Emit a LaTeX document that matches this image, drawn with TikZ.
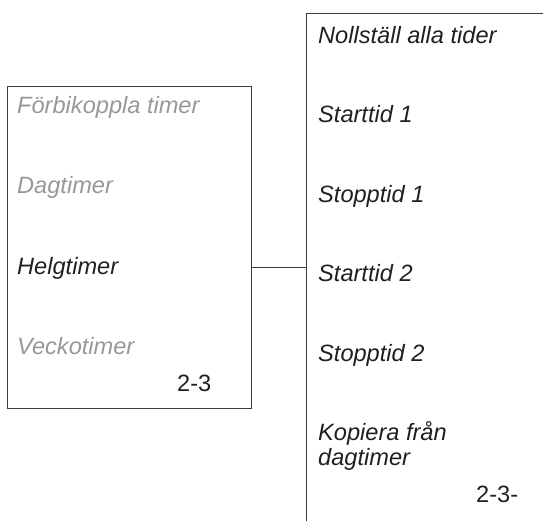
\documentclass[tikz,border=0pt]{standalone}
\usepackage{fontspec}
\setmainfont{Liberation Sans}
\usepackage{tikz}
\usetikzlibrary{positioning}
\definecolor{boxline}{RGB}{60, 60, 60}
\definecolor{dimtext}{RGB}{152, 152, 154}
\definecolor{maintext}{RGB}{35, 31, 32}

\begin{document}
\begin{tikzpicture}[
    x=1pt, y=-1pt,
    menubox/.style={
      rectangle,
      draw=boxline,
      line width=1pt,
      inner sep=0pt
    },
    item/.style={
      anchor=base west,
      inner sep=0pt,
      text=maintext,
      font=\fontsize{23.6}{24.5}\selectfont\itshape
    },
    inactive/.style={
      item,
      text=dimtext
    },
    pagenum/.style={
      anchor=base west,
      inner sep=0pt,
      text=maintext,
      font=\fontsize{23.6}{24.5}\selectfont
    },
    link/.style={
      draw=boxline,
      line width=1pt
    }
  ]

    \useasboundingbox (0,0) rectangle (543,520);
    \clip (0,0) rectangle (543,520);

    % Left box
    \node[menubox, minimum width=244pt, minimum height=322pt] (timers) at (129,247) {};
    \node[inactive] (bypass) at (17,113) {Förbikoppla timer};
    \node[inactive] (day) at (17,193) {Dagtimer};
    \node[item] (weekend) at (17,274) {Helgtimer};
    \node[inactive] (week) at (17,354) {Veckotimer};
    \node[pagenum] (leftnum) at (177,391) {2-3};

    % Right box (runs past the edge)
    \node[menubox, minimum width=264pt, minimum height=540pt] (times) at (438,283) {};
    \node[item] (reset) at (318,43) {Nollställ alla tider};
    \node[item] (start1) at (318,122) {Starttid 1};
    \node[item] (stop1) at (318,202) {Stopptid 1};
    \node[item] (start2) at (318,281) {Starttid 2};
    \node[item] (stop2) at (318,361) {Stopptid 2};
    \node[item, align=left] (copy) at (318,465) {Kopiera från\\dagtimer};
    \node[pagenum] (rightnum) at (476,502) {2-3-};

    % Connection
    \draw[link] (timers.east |- weekend) -- (times.west |- weekend);

  \end{tikzpicture}
\end{document}
